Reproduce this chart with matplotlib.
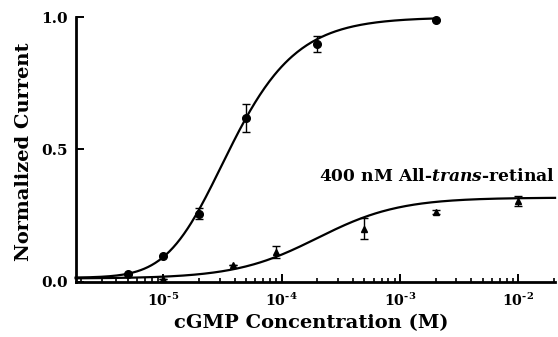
import numpy as np
import matplotlib
matplotlib.use("Agg")
import matplotlib.pyplot as plt
from matplotlib.ticker import FixedLocator, NullFormatter

# ---- data ----
ctrl_conc = [5e-6, 1e-5, 2e-5, 5e-5, 2e-4, 2e-3]
ctrl_resp = [0.03, 0.097, 0.257, 0.62, 0.898, 0.99]
ctrl_err = [0.0, 0.0, 0.02, 0.053, 0.03, 0.0]

ret_conc = [1e-5, 3.9e-5, 9e-5, 5e-4, 2e-3, 1e-2]
ret_resp = [0.01, 0.065, 0.113, 0.201, 0.264, 0.306]
ret_err = [0.0, 0.0, 0.022, 0.04, 0.009, 0.019]

# fitted curves: baseline, max, K, n, asymmetry s
ctrl_fit = [0.015, 1.0, 1.535e-5, 1.3, 2.5]
ret_fit = [0.012, 0.318, 2.0e-4, 1.25, 1.0]

xtick_vals = [1e-5, 1e-4, 1e-3, 1e-2]
xtick_labels = [r'$10^{\text{-}5}$', r'$10^{\text{-}4}$', r'$10^{\text{-}3}$', r'$10^{\text{-}2}$']
ytick_vals = [0.0, 0.5, 1.0]
ytick_labels = ['0.0', '0.5', '1.0']

FONT = 'DejaVu Serif'
plt.rcParams['font.family'] = FONT
plt.rcParams['mathtext.fontset'] = 'custom'
plt.rcParams['mathtext.rm'] = FONT + ':bold'
plt.rcParams['mathtext.it'] = FONT + ':bold:italic'
plt.rcParams['mathtext.bf'] = FONT + ':bold'

fig = plt.figure(figsize=(5.58, 3.37), dpi=100)
ax = fig.add_axes([0.1357, 0.1641, 0.859, 0.7846])

xmin, xmax = 1.81e-6, 2.05e-2
ax.set_xscale('log')
ax.set_xlim(xmin, xmax)
ax.set_ylim(0, 1.0)

def fitcurve(x, p):
    b, m, k, n, s = p
    return b + (m - b) * (1.0 + (k / x)**n)**(-s)

xc = np.logspace(np.log10(xmin), np.log10(ctrl_conc[-1]), 300)
ax.plot(xc, fitcurve(xc, ctrl_fit), color='black', lw=1.6, clip_on=False)
xr = np.logspace(np.log10(xmin), np.log10(xmax), 300)
ax.plot(xr, fitcurve(xr, ret_fit), color='black', lw=1.6, clip_on=False)

ax.errorbar(ctrl_conc, ctrl_resp, yerr=ctrl_err, fmt='o', color='black',
            ms=5.5, capsize=3, elinewidth=1, capthick=1, clip_on=False, zorder=3)
ax.errorbar(ret_conc, ret_resp, yerr=ret_err, fmt='^', color='black',
            ms=5, capsize=3, elinewidth=1, capthick=1, clip_on=False, zorder=3)

for s in ['top', 'right']:
    ax.spines[s].set_visible(False)
for s in ['left', 'bottom']:
    ax.spines[s].set_linewidth(2)

ax.set_xticks(xtick_vals)
ax.set_xticklabels(xtick_labels, fontsize=10.3)
minors = [m * 10.0**e for e in range(-6, -1) for m in range(2, 10)]
ax.xaxis.set_minor_locator(FixedLocator([v for v in minors if xmin <= v <= xmax * 1.001]))
ax.xaxis.set_minor_formatter(NullFormatter())
ax.tick_params(axis='x', which='major', direction='in', length=5.5, width=1.4, pad=7)
ax.tick_params(axis='x', which='minor', direction='in', length=3, width=1.2)

ax.set_yticks(ytick_vals)
ax.set_yticklabels(ytick_labels, fontsize=11, fontweight='bold')
ax.tick_params(axis='y', which='major', direction='in', length=5.5, width=1.4, pad=6)
ax.yaxis.set_minor_locator(FixedLocator([]))

ax.set_xlabel('cGMP Concentration (M)', fontsize=14, fontweight='bold')
ax.set_ylabel('Normalized Current', fontsize=14, fontweight='bold')
ax.xaxis.set_label_coords(0.492, -0.122)
ax.yaxis.set_label_coords(-0.09, 0.493)

ax.text(1.0, 0.3815, r'400 nM All-$\it{trans}$-retinal', transform=ax.transAxes,
        ha='right', va='baseline', fontsize=12.3, fontweight='bold')

fig.savefig('out.png', dpi=100)
